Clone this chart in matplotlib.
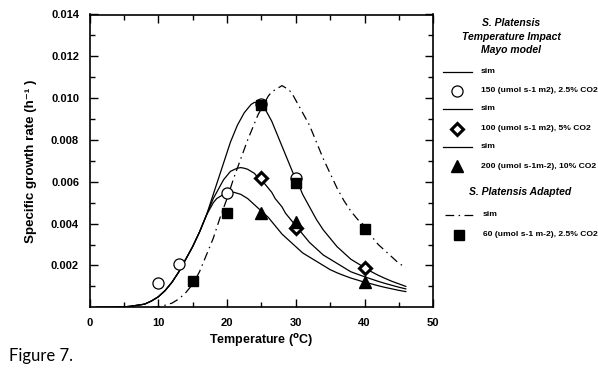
import matplotlib
matplotlib.use("Agg")
import matplotlib.pyplot as plt
from matplotlib.lines import Line2D

plt.rcParams['font.family'] = ['Liberation Sans', 'DejaVu Sans']

# ---------------- data ----------------
T_sim = [1, 2, 3, 4, 5, 6, 7, 8, 9, 10, 11, 12, 13, 14, 15, 16,
         16.5, 17, 17.5, 18, 18.5, 19, 19.5, 20, 20.5, 21, 21.5, 22, 22.5, 23, 23.5, 24,
         24.5, 25, 25.5, 26, 26.5, 27, 27.5, 28, 28.5, 29, 29.5, 30, 30.5, 31, 31.5, 32,
         33, 34, 35, 36, 37, 38, 39, 40, 41, 42, 43, 44, 45, 46]
rise_common = [0, 0, 0, 0.00001, 0.00002, 0.00005, 0.0001, 0.00015, 0.0003, 0.0005,
               0.0008, 0.0012, 0.0017, 0.0023, 0.0029, 0.0036]
sim_150 = rise_common + [
    0.0040, 0.0044, 0.0049, 0.0054, 0.0059, 0.0064, 0.0069, 0.0074,
    0.0079, 0.0083, 0.0087, 0.0090, 0.0093, 0.0095, 0.0097, 0.0098,
    0.0098, 0.0097, 0.0095, 0.0092, 0.0089, 0.0085, 0.0081, 0.0077,
    0.0073, 0.0069, 0.0065, 0.0061, 0.0058, 0.0054, 0.0051, 0.0048,
    0.0042, 0.0037, 0.0033, 0.0029, 0.0026, 0.0023, 0.0021, 0.0019,
    0.0017, 0.00153, 0.00138, 0.00124, 0.00112, 0.0010]
sim_100 = rise_common + [
    0.0040, 0.0044, 0.0048, 0.0052, 0.0055, 0.0058, 0.0061, 0.0063,
    0.0065, 0.00658, 0.00665, 0.00668, 0.00665, 0.0066, 0.0065, 0.0064,
    0.0062, 0.0061, 0.0059, 0.0057, 0.0055, 0.0052, 0.0050, 0.0048,
    0.0045, 0.0043, 0.0041, 0.0039, 0.0037, 0.0035, 0.0033, 0.0031,
    0.0028, 0.0025, 0.0023, 0.0021, 0.0019, 0.0017, 0.00158, 0.00146,
    0.00135, 0.00124, 0.00114, 0.00105, 0.00096, 0.00088]
sim_200 = rise_common + [
    0.0040, 0.0044, 0.0047, 0.0050, 0.0052, 0.0053, 0.0054, 0.00548,
    0.0055, 0.0055, 0.00545, 0.0054, 0.0053, 0.0052, 0.00505, 0.0049,
    0.00475, 0.0046, 0.00445, 0.0043, 0.0041, 0.0039, 0.0037, 0.0035,
    0.00335, 0.0032, 0.00305, 0.0029, 0.00275, 0.0026, 0.0025, 0.0024,
    0.0022, 0.0020, 0.0018, 0.00165, 0.00152, 0.0014, 0.0013, 0.0012,
    0.00112, 0.00103, 0.00095, 0.00088, 0.00081, 0.00075]
T_adapt = [9, 10, 11, 12, 13, 14, 15, 16, 17, 18, 19, 20, 21, 22, 23, 24,
           24.5, 25, 25.5, 26, 26.5, 27, 27.5, 28, 28.5, 29, 29.5, 30, 30.5, 31, 31.5, 32,
           33, 34, 35, 36, 37, 38, 39, 40, 41, 42, 43, 44, 45, 46]
sim_adapt = [0, 0.00002, 0.0001, 0.0002, 0.0004, 0.0007, 0.0011, 0.0017, 0.0025, 0.0033,
             0.0043, 0.0052, 0.0062, 0.0071, 0.0080, 0.0088,
             0.0092, 0.0095, 0.0098, 0.0101, 0.0103, 0.0104, 0.0105, 0.0106,
             0.0105, 0.0104, 0.0102, 0.0099, 0.0096, 0.0093, 0.0090, 0.0087,
             0.0079, 0.0071, 0.0064, 0.0057, 0.0051, 0.0046, 0.0042, 0.0039,
             0.0034, 0.0030, 0.0027, 0.0024, 0.0021, 0.0019]

T_150 = [10, 13, 20, 25, 30]
obs_150 = [0.00115, 0.00205, 0.00545, 0.0097, 0.0062]
T_100 = [25, 30, 40]
obs_100 = [0.0062, 0.0038, 0.00186]
T_200 = [25, 30, 40]
obs_200 = [0.00452, 0.00409, 0.00122]
T_60 = [15, 20, 25, 30, 40]
obs_60 = [0.00127, 0.00452, 0.00966, 0.00595, 0.00372]

labels_obs = ["150 (umol s-1 m2), 2.5% CO2", "100 (umol s-1 m2), 5% CO2",
              "200 (umol s-1m-2), 10% CO2", "60 (umol s-1 m-2), 2.5% CO2"]
title1 = ["S. Platensis", "Temperature Impact", "Mayo model"]
title2 = "S. Platensis Adapted"
xticks = [0, 10, 20, 30, 40, 50]
yticks = [0.002, 0.004, 0.006, 0.008, 0.010, 0.012, 0.014]

# ---------------- figure ----------------
W, H = 598, 370
fig = plt.figure(figsize=(W / 100, H / 100), dpi=100)
ax = fig.add_axes([89.5 / W, 1 - 307.3 / H, (433.3 - 89.5) / W, (307.3 - 14.5) / H])

lw = 0.9
dashdot = (0, (7, 3.5, 1.2, 3.5))
ax.plot(T_sim, sim_150, color='black', lw=lw)
ax.plot(T_sim, sim_100, color='black', lw=lw)
ax.plot(T_sim, sim_200, color='black', lw=lw)
ax.plot(T_adapt, sim_adapt, color='black', lw=lw, linestyle=dashdot)

circ = dict(marker='o', ms=8, mfc='white', mec='black', mew=0.9, ls='none')
diam = dict(marker='D', ms=6, mfc='white', mec='black', mew=2.2, ls='none')
tri = dict(marker='^', ms=8, mfc='black', mec='black', ls='none')
sq = dict(marker='s', ms=7.5, mfc='black', mec='black', ls='none')

ax.plot(T_150, obs_150, zorder=3, **circ)
ax.plot(T_100, obs_100, zorder=3, **diam)
ax.plot(T_200, obs_200, zorder=3, **tri)
ax.plot(T_60, obs_60, zorder=4, **sq)

ax.set_xlim(0, 50)
ax.set_ylim(0, 0.014)
ax.set_xticks(xticks)
ax.set_xticks([5, 15, 25, 35, 45], minor=True)
ax.set_yticks(yticks)
ax.set_yticks([0.001, 0.003, 0.005, 0.007, 0.009, 0.011, 0.013], minor=True)
ax.set_xticklabels([str(v) for v in xticks], fontweight='bold', fontsize=8)
ax.set_yticklabels([f"{v:.3f}" for v in yticks], fontweight='bold', fontsize=8)
ax.tick_params(which='both', direction='in', top=True, right=True, width=1.0)
ax.tick_params(which='major', length=6, pad=7.5)
ax.tick_params(which='minor', length=3.5)
for s in ax.spines.values():
    s.set_linewidth(1.2)

ax.set_xlabel("Temperature ($\\mathbf{^{o}}$C)", fontweight='bold', fontsize=9, labelpad=3)
ax.set_ylabel("Specific growth rate (h\u207b\u00b9 )", fontweight='bold', fontsize=9.6, labelpad=10)

# ---------------- legend (manual) ----------------
def fx(px):
    return px / W

def fy(py):
    return 1 - py / H

for i, t in enumerate(title1):
    fig.text(fx(511), fy(23 + i * 13.5), t, ha='center', va='center',
             fontweight='bold', fontstyle='italic', fontsize=7.5)
fig.text(fx(520), fy(192), title2, ha='center', va='center',
         fontweight='bold', fontstyle='italic', fontsize=7.5)

leg_fs = 6.1
rows = [
    (71.5, 'line', 'sim'),
    (90.5, circ, labels_obs[0]),
    (108.5, 'line', 'sim'),
    (128.5, diam, labels_obs[1]),
    (146.5, 'line', 'sim'),
    (166.5, tri, labels_obs[2]),
]
for y, kind, txt in rows:
    if kind == 'line':
        fig.add_artist(Line2D([fx(443), fx(472)], [fy(y), fy(y)], color='black', lw=lw))
    else:
        fig.add_artist(Line2D([fx(457)], [fy(y)], **kind))
    fig.text(fx(481), fy(y), txt, ha='left', va='center', fontweight='bold', fontsize=leg_fs)

fig.add_artist(Line2D([fx(445), fx(473)], [fy(215), fy(215)], color='black', lw=lw, linestyle=dashdot))
fig.text(fx(483), fy(215), 'sim', ha='left', va='center', fontweight='bold', fontsize=leg_fs)
fig.add_artist(Line2D([fx(459)], [fy(234.5)], **sq))
fig.text(fx(483), fy(234.5), labels_obs[3], ha='left', va='center', fontweight='bold', fontsize=leg_fs)

fig.text(fx(9), fy(356), "Figure 7.", ha='left', va='center', fontsize=12, family=['Lato', 'DejaVu Sans'])

fig.savefig("out.png", dpi=100)
